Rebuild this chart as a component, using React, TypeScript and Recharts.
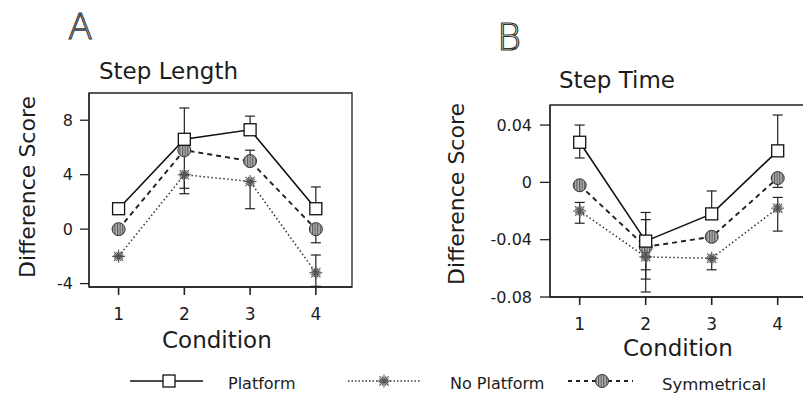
import { LineChart, Line, XAxis, YAxis, ErrorBar, ReferenceArea } from 'recharts'

// Condition numbers on the x axis
const conditions = [1, 2, 3, 4]

// Panel A: step length difference score
const lengthPlatform = [1.5, 6.6, 7.3, 1.5]
const lengthNoPlatform = [-2.0, 4.0, 3.5, -3.2]
const lengthSymmetrical = [0.0, 5.8, 5.0, 0.0]
// error extents as [below, above]
const lengthPlatformErr = [[0, 0], [0, 2.3], [0, 1.0], [0, 1.6]]
const lengthNoPlatformErr = [[0, 0], [1.4, 0], [2.0, 0], [1.0, 1.3]]
const lengthSymmetricalErr = [[0, 0], [2.8, 0], [0, 0.8], [1.0, 0]]

// Panel B: step time difference score
const timePlatform = [0.028, -0.041, -0.022, 0.022]
const timeNoPlatform = [-0.020, -0.052, -0.053, -0.018]
const timeSymmetrical = [-0.002, -0.045, -0.038, 0.003]
const timePlatformErr = [[0.011, 0.012], [0.02, 0.02], [0, 0.016], [0, 0.025]]
const timeNoPlatformErr = [[0.0085, 0.006], [0.0245, 0], [0.008, 0], [0.016, 0.0075]]
const timeSymmetricalErr = [[0, 0], [0.0225, 0.019], [0, 0], [0.0065, 0]]

const lengthTicks = [-4, 0, 4, 8]
const timeTicks = [-0.08, -0.04, 0, 0.04]

const FONT = '"DejaVu Sans", sans-serif'
const INK = '#1c1c1c'

const lengthRows = conditions.map((c, i) => ({
  condition: c,
  platform: lengthPlatform[i],
  noPlatform: lengthNoPlatform[i],
  symmetrical: lengthSymmetrical[i],
  platformErr: lengthPlatformErr[i],
  noPlatformErr: lengthNoPlatformErr[i],
  symmetricalErr: lengthSymmetricalErr[i],
}))

const timeRows = conditions.map((c, i) => ({
  condition: c,
  platform: timePlatform[i],
  noPlatform: timeNoPlatform[i],
  symmetrical: timeSymmetrical[i],
  platformErr: timePlatformErr[i],
  noPlatformErr: timeNoPlatformErr[i],
  symmetricalErr: timeSymmetricalErr[i],
}))

function SquareMark({ cx, cy }: { cx: number; cy: number }) {
  return <rect x={cx - 6} y={cy - 6} width={12} height={12} fill="#fff" stroke="#111" strokeWidth={1.3} />
}

function StarMark({ cx, cy }: { cx: number; cy: number }) {
  const spokes = [0, 22.5, 45, 67.5, 90, 112.5, 135, 157.5]
  return (
    <g stroke="#555" strokeWidth={1.1}>
      {spokes.map((a) => {
        const r = a % 45 === 0 ? 6.5 : 5
        const dx = Math.cos((a * Math.PI) / 180) * r
        const dy = Math.sin((a * Math.PI) / 180) * r
        return <line key={a} x1={cx - dx} y1={cy - dy} x2={cx + dx} y2={cy + dy} />
      })}
    </g>
  )
}

function CircleMark({ cx, cy, pat }: { cx: number; cy: number; pat: string }) {
  return <circle cx={cx} cy={cy} r={6.5} fill={`url(#${pat})`} stroke="#333" strokeWidth={1} />
}

function Hatch({ id }: { id: string }) {
  return (
    <defs>
      <pattern id={id} width={2.6} height={2.6} patternUnits="userSpaceOnUse">
        <rect width={2.6} height={2.6} fill="#b4b4b4" />
        <line x1={0.6} y1={0} x2={0.6} y2={2.6} stroke="#555" strokeWidth={1.1} />
      </pattern>
    </defs>
  )
}

interface PanelProps {
  rows: typeof lengthRows
  yDomain: [number, number]
  yTicks: number[]
  yWidth: number
  width: number
  height: number
  margin: { top: number; right: number; bottom: number; left: number }
  tickSize: number
  tickMargin: number
  pat: string
}

function Panel({ rows, yDomain, yTicks, yWidth, width, height, margin, tickSize, tickMargin, pat }: PanelProps) {
  const dot = (shape: 'sq' | 'star' | 'circ') => (p: any) => {
    if (p.cx == null || p.cy == null) return <g key={`${shape}-${p.index}`} />
    return (
      <g key={`${shape}-${p.index}`}>
        {shape === 'sq' && <SquareMark cx={p.cx} cy={p.cy} />}
        {shape === 'star' && <StarMark cx={p.cx} cy={p.cy} />}
        {shape === 'circ' && <CircleMark cx={p.cx} cy={p.cy} pat={pat} />}
      </g>
    )
  }
  return (
    <LineChart width={width} height={height} data={rows} margin={margin}>
      <Hatch id={pat} />
      <ReferenceArea
        x1={0.55} x2={4.55} y1={yDomain[0]} y2={yDomain[1]}
        fill="none" stroke="#222" strokeWidth={1.3} ifOverflow="visible"
      />
      <XAxis
        type="number" dataKey="condition" domain={[0.55, 4.55]} ticks={conditions}
        allowDataOverflow height={30} tickSize={8} tickMargin={13}
        stroke="#222" strokeWidth={1.6}
        tick={{ fill: INK, fontSize: 17, fontFamily: FONT }}
      />
      <YAxis
        type="number" domain={yDomain} ticks={yTicks} allowDataOverflow width={yWidth}
        tickSize={tickSize} tickMargin={tickMargin} stroke="#222" strokeWidth={1.3}
        tickFormatter={(v: number) => (v === 0 ? '0' : String(v))}
        tick={{ fill: INK, fontSize: 16, fontFamily: FONT }}
      />
      <Line
        type="linear" dataKey="symmetrical" stroke="#222" strokeWidth={1.9} strokeDasharray="5 4"
        dot={dot('circ')} activeDot={false} isAnimationActive={false}
      >
        <ErrorBar dataKey="symmetricalErr" width={5} stroke="#222" strokeWidth={1.2} direction="y" />
      </Line>
      <Line
        type="linear" dataKey="noPlatform" stroke="#333" strokeWidth={1.5} strokeDasharray="1.5 2.5"
        dot={dot('star')} activeDot={false} isAnimationActive={false}
      >
        <ErrorBar dataKey="noPlatformErr" width={5} stroke="#222" strokeWidth={1.2} direction="y" />
      </Line>
      <Line
        type="linear" dataKey="platform" stroke="#111" strokeWidth={1.6}
        dot={dot('sq')} activeDot={false} isAnimationActive={false}
      >
        <ErrorBar dataKey="platformErr" width={5} stroke="#222" strokeWidth={1.2} direction="y" />
      </Line>
    </LineChart>
  )
}

const abs = (left: number, top: number, fontSize: number, extra: React.CSSProperties = {}): React.CSSProperties => ({
  position: 'absolute', left, top, fontSize, lineHeight: 1, whiteSpace: 'nowrap', color: INK, ...extra,
})

const outline: React.CSSProperties = { color: '#fff', WebkitTextStroke: '1.1px #333', fontWeight: 300 }
const rotated: React.CSSProperties = { transform: 'translate(-50%, -50%) rotate(-90deg)' }

export default function App() {
  return (
    <div style={{ position: 'absolute', left: 0, top: 0, width: 803, height: 402, overflow: 'hidden', background: '#fff', fontFamily: FONT }}>
      <div style={{ position: 'absolute', left: 0, top: 0 }}>
        <Panel
          rows={lengthRows} yDomain={[-4.25, 10]} yTicks={lengthTicks} yWidth={40}
          width={400} height={402} margin={{ top: 93, right: 48, bottom: 85, left: 49 }}
          tickSize={9} tickMargin={7} pat="hatchA"
        />
      </div>
      <div style={{ position: 'absolute', left: 410, top: 0 }}>
        <Panel
          rows={timeRows} yDomain={[-0.08, 0.054]} yTicks={timeTicks} yWidth={60}
          width={420} height={402} margin={{ top: 105, right: 16, bottom: 75, left: 80 }}
          tickSize={10} tickMargin={8} pat="hatchB"
        />
      </div>

      <div style={abs(68, 9, 36, outline)}>A</div>
      <div style={abs(497, 19, 37, outline)}>B</div>
      <div style={abs(99, 60, 23)}>Step Length</div>
      <div style={abs(559, 69, 23)}>Step Time</div>
      <div style={abs(28, 187, 22, rotated)}>Difference Score</div>
      <div style={abs(457, 194, 22, rotated)}>Difference Score</div>
      <div style={abs(162, 329, 23)}>Condition</div>
      <div style={abs(623, 337, 23)}>Condition</div>

      <svg width={803} height={402} style={{ position: 'absolute', left: 0, top: 0 }}>
        <Hatch id="hatchL" />
        <line x1={130} y1={381} x2={203} y2={381} stroke="#111" strokeWidth={1.5} />
        <SquareMark cx={169} cy={381} />
        <text x={228} y={389} fontSize={16} fontFamily={FONT} fill={INK}>Platform</text>
        <line x1={348} y1={381} x2={420} y2={381} stroke="#333" strokeWidth={1.4} strokeDasharray="1.5 2" />
        <StarMark cx={384} cy={381} />
        <text x={450} y={389} fontSize={16} fontFamily={FONT} fill={INK}>No Platform</text>
        <line x1={568} y1={381} x2={633} y2={381} stroke="#222" strokeWidth={1.8} strokeDasharray="4 4" />
        <CircleMark cx={602} cy={381} pat="hatchL" />
        <text x={662} y={390} fontSize={16.5} fontFamily={FONT} fill={INK}>Symmetrical</text>
      </svg>
    </div>
  )
}
